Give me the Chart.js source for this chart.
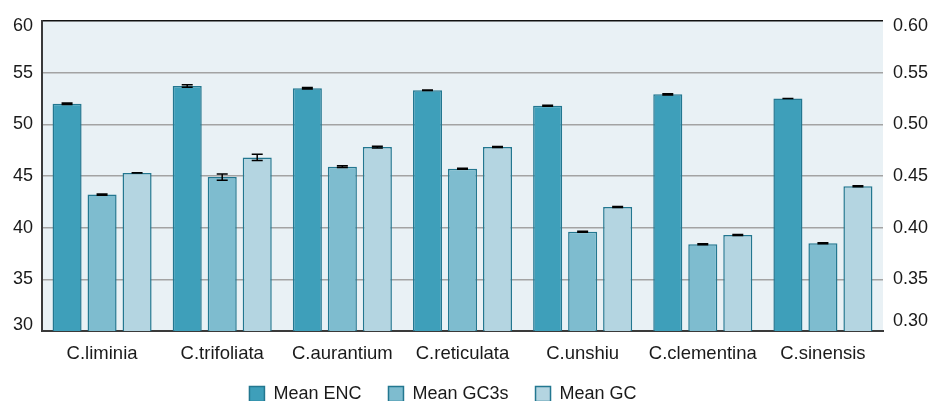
<!DOCTYPE html>
<html>
<head>
<meta charset="utf-8">
<script src="https://cdn.jsdelivr.net/npm/chart.js@4"></script>
<style>
  html, body { margin: 0; padding: 0; background: #fff; }
  #wrap { width: 930px; height: 401px; }
</style>
</head>
<body>
<div id="wrap"><canvas id="myCanvas" width="930" height="401"></canvas></div>
<script>
const species = ["C.liminia", "C.trifoliata", "C.aurantium", "C.reticulata", "C.unshiu", "C.clementina", "C.sinensis"];

const meanENC = [52.0, 53.7, 53.5, 53.3, 51.8, 52.9, 52.5];
const encErr = [0.07, 0.12, 0.07, 0.03, 0.04, 0.05, 0.01];

const meanGC3s = [0.432, 0.449, 0.459, 0.457, 0.396, 0.384, 0.385];
const gc3sErr = [0.0007, 0.003, 0.0008, 0.0005, 0.0005, 0.0005, 0.0005];

const meanGC = [0.453, 0.468, 0.478, 0.478, 0.420, 0.393, 0.440];
const gcErr = [0.0002, 0.003, 0.0008, 0.0005, 0.0005, 0.0005, 0.0005];

const errors = [encErr, gc3sErr, gcErr];

const FONT = "'Liberation Sans', Arial, sans-serif";

// light panel behind the bars
const panelBg = {
  id: "panelBg",
  beforeDraw(chart) {
    const { ctx, chartArea: a } = chart;
    ctx.save();
    ctx.fillStyle = "#e9f1f5";
    ctx.fillRect(a.left, a.top, a.right - a.left, a.bottom - a.top);
    ctx.restore();
  }
};

// whiskers on top of each bar
const errorBars = {
  id: "errorBars",
  afterDatasetsDraw(chart) {
    const ctx = chart.ctx;
    ctx.save();
    ctx.strokeStyle = "#000";
    ctx.lineWidth = 1.5;
    chart.data.datasets.forEach((ds, i) => {
      const meta = chart.getDatasetMeta(i);
      const scale = chart.scales[ds.yAxisID];
      meta.data.forEach((bar, j) => {
        const v = ds.data[j];
        const e = errors[i][j];
        const top = scale.getPixelForValue(v + e);
        const bot = scale.getPixelForValue(v - e);
        const x = bar.x;
        ctx.beginPath();
        ctx.moveTo(x, top); ctx.lineTo(x, bot);
        ctx.moveTo(x - 5.5, top); ctx.lineTo(x + 5.5, top);
        ctx.moveTo(x - 5.5, bot); ctx.lineTo(x + 5.5, bot);
        ctx.stroke();
      });
    });
    ctx.restore();
  }
};

// nudge the legend to its spot under the axis labels
const legendShift = {
  id: "legendShift",
  afterLayout(chart) {
    const lg = chart.legend;
    if (!lg) return;
    lg.left -= 22; lg.right -= 22;
    lg.top -= 13; lg.bottom -= 13;
  }
};

// end labels sit inside the plot: pad them with empty lines
function leftLabel(v) {
  if (v === 60) return ["", "60"];
  if (v === 30) return ["30", ""];
  return String(v);
}
function rightLabel(v) {
  const s = Number(v).toFixed(2);
  if (Math.abs(v - 0.6) < 1e-9) return ["", s];
  if (Math.abs(v - 0.3) < 1e-9) return [s, "", ""];
  return s;
}

const ctx = document.getElementById("myCanvas").getContext("2d");
new Chart(ctx, {
  type: "bar",
  data: {
    labels: species,
    datasets: [
      {
        label: "Mean ENC",
        data: meanENC,
        yAxisID: "y",
        backgroundColor: "#3e9fba",
        borderColor: "#237790",
        borderWidth: 1.5
      },
      {
        label: "Mean GC3s",
        data: meanGC3s,
        yAxisID: "y1",
        backgroundColor: "#7ebccf",
        borderColor: "#237790",
        borderWidth: 1.5
      },
      {
        label: "Mean GC",
        data: meanGC,
        yAxisID: "y1",
        backgroundColor: "#b4d5e1",
        borderColor: "#237790",
        borderWidth: 1.5
      }
    ]
  },
  options: {
    responsive: false,
    animation: false,
    devicePixelRatio: 1,
    layout: { padding: { top: 21, left: 0, right: 0, bottom: -25 } },
    datasets: {
      bar: { categoryPercentage: 0.874, barPercentage: 0.83 }
    },
    plugins: {
      tooltip: { enabled: false },
      legend: {
        position: "bottom",
        labels: {
          boxWidth: 15,
          boxHeight: 15,
          padding: 27,
          color: "#1a1a1a",
          font: { family: FONT, size: 18 }
        }
      }
    },
    scales: {
      x: {
        grid: { display: false, drawTicks: false },
        border: { display: true, color: "#3a3a3a", width: 2 },
        ticks: { padding: 12, color: "#1a1a1a", font: { family: FONT, size: 18.5 } },
        afterFit(s) { s.height = 40; }
      },
      y: {
        position: "left",
        min: 30,
        max: 60,
        ticks: {
          stepSize: 5,
          padding: 9,
          color: "#1a1a1a",
          font: { family: FONT, size: 18, lineHeight: "11px" },
          callback: leftLabel
        },
        grid: {
          drawTicks: false,
          lineWidth: 1.5,
          color: (c) => (c.tick && c.tick.value === 60 ? "#111" : "#a3a3a3")
        },
        border: { display: true, color: "#3a3a3a", width: 2 },
        afterFit(s) { s.width = 42; }
      },
      y1: {
        position: "right",
        min: 0.3,
        max: 0.6,
        ticks: {
          stepSize: 0.05,
          padding: 10,
          color: "#1a1a1a",
          font: { family: FONT, size: 18, lineHeight: "9.5px" },
          callback: rightLabel
        },
        grid: { display: false, drawTicks: false },
        border: { display: false },
        afterFit(s) { s.width = 47; }
      }
    }
  },
  plugins: [panelBg, errorBars, legendShift]
});
</script>
</body>
</html>
